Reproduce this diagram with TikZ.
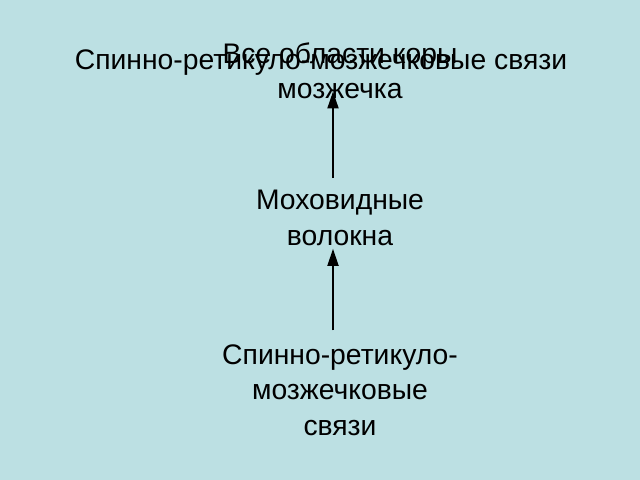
\documentclass[tikz,border=0pt]{standalone}
\usepackage{fontspec}
\setmainfont{Liberation Sans}
\usetikzlibrary{arrows.meta}
\definecolor{bgc}{RGB}{188,224,227}
\begin{document}
\begin{tikzpicture}[x=1bp,y=-1bp,
  txt/.style={align=center,inner sep=0pt,font=\fontsize{28.3bp}{35.5bp}\selectfont},
  arr/.style={-{Triangle[width=11bp,length=17bp]},line width=1.9bp}]
\fill[bgc] (0,0) rectangle (640,480);
\useasboundingbox (0,0) rectangle (640,480);
\node[txt] (title) at (321,63) {Спинно-ретикуло-мозжечковые связи};
\node[txt] (top) at (340,71) {Все области коры\\мозжечка};
\node[txt] (mid) at (340,218) {Моховидные\\волокна};
\node[txt] (bot) at (340,390) {Спинно-ретикуло-\\мозжечковые\\связи};
\draw[arr,shorten <=12bp,shorten >=-8bp] ([xshift=-7bp]mid.north) -- ([xshift=-7bp]top.south);
\draw[arr,shorten <=14bp,shorten >=3bp] ([xshift=-7bp]bot.north) -- ([xshift=-7bp]mid.south);
\end{tikzpicture}
\end{document}
